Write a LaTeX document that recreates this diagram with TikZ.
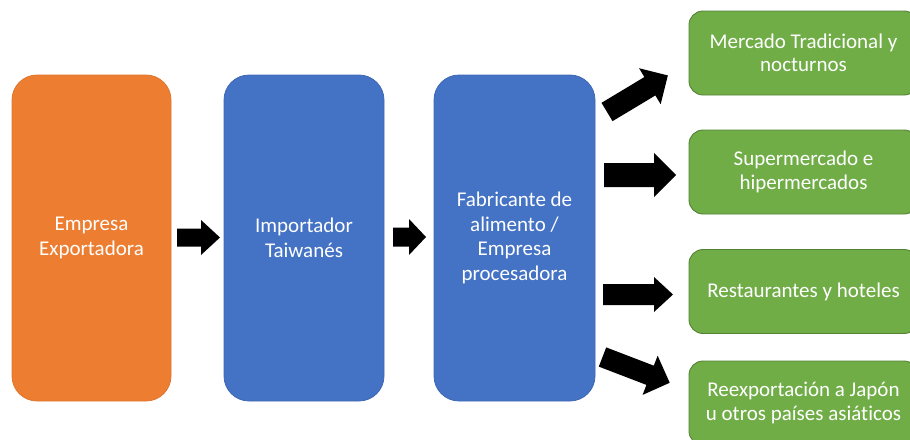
\documentclass[tikz,border=0pt]{standalone}
\usepackage{fontspec}
\setmainfont{Carlito}[Ligatures=NoCommon]
\definecolor{orangeF}{HTML}{ED7D31}
\definecolor{orangeD}{HTML}{E0762D}
\definecolor{blueF}{HTML}{4472C4}
\definecolor{blueD}{HTML}{3F68B5}
\definecolor{greenF}{HTML}{70AD47}
\definecolor{greenD}{HTML}{548235}
\tikzset{
  boxbase/.style={rounded corners=25pt, minimum width=#1, minimum height=326pt,
    inner sep=0pt, outer sep=0pt, align=center, text=white, line width=0.8pt,
    font=\fontsize{21}{24.5}\selectfont},
  orangebox/.style={boxbase=159pt, fill=orangeF, draw=orangeD},
  bluebox/.style={boxbase=#1, fill=blueF, draw=blueD},
  greenbox/.style={rounded corners=14pt, minimum width=229pt, minimum height=84pt,
    inner sep=0pt, outer sep=0pt, align=center, text=white, line width=0.9pt,
    fill=greenF, draw=greenD, font=\fontsize{21}{23.5}\selectfont},
  blockarrow/.style={fill=black}
}
% \barrow{tailx}{taily}{angle}{length}{shafthalf}{headhalf}{headlen}
\newcommand{\barrow}[7]{%
  \begin{scope}[shift={(#1,#2)}, rotate=#3]
    \fill[blockarrow] (0,-#5) -- ({#4-#7},-#5) -- ({#4-#7},-#6) -- (#4,0)
      -- ({#4-#7},#6) -- ({#4-#7},#5) -- (0,#5) -- cycle;
  \end{scope}}
\begin{document}
\begin{tikzpicture}[x=1pt,y=-1pt]
\useasboundingbox (0,0) rectangle (910,439);
\clip (0,0) rectangle (910,439);
\node[orangebox] (exp) at (91.5,238) {Empresa\\Exportadora};
\node[bluebox=160pt] (imp) at (304,238) {Importador\\Taiwanés};
\node[bluebox=161pt] (fab) at (514.5,238) {Fabricante de\\alimento /\\Empresa\\procesadora};
\node[greenbox] (g1) at (803.5,53) {Mercado Tradicional y\\nocturnos};
\node[greenbox] (g2) at (803.5,172) {Supermercado e\\hipermercados};
\node[greenbox] (g3) at (803.5,291.5) {Restaurantes y hoteles};
\node[greenbox] (g4) at (803.5,403) {Reexportación a Japón\\u otros países asiáticos};
% block arrows
\barrow{177}{237.5}{0}{43}{9}{17.5}{19}
\barrow{393}{237}{0}{33}{9.5}{18}{17}
\barrow{607}{112}{31}{71}{10.7}{21}{21}
\barrow{604}{175}{0}{72}{12}{22}{22}
\barrow{603}{294.5}{0}{70}{10.5}{17.5}{19}
\barrow{602.5}{357}{-21}{72}{10.3}{21}{21}
\end{tikzpicture}
\end{document}
